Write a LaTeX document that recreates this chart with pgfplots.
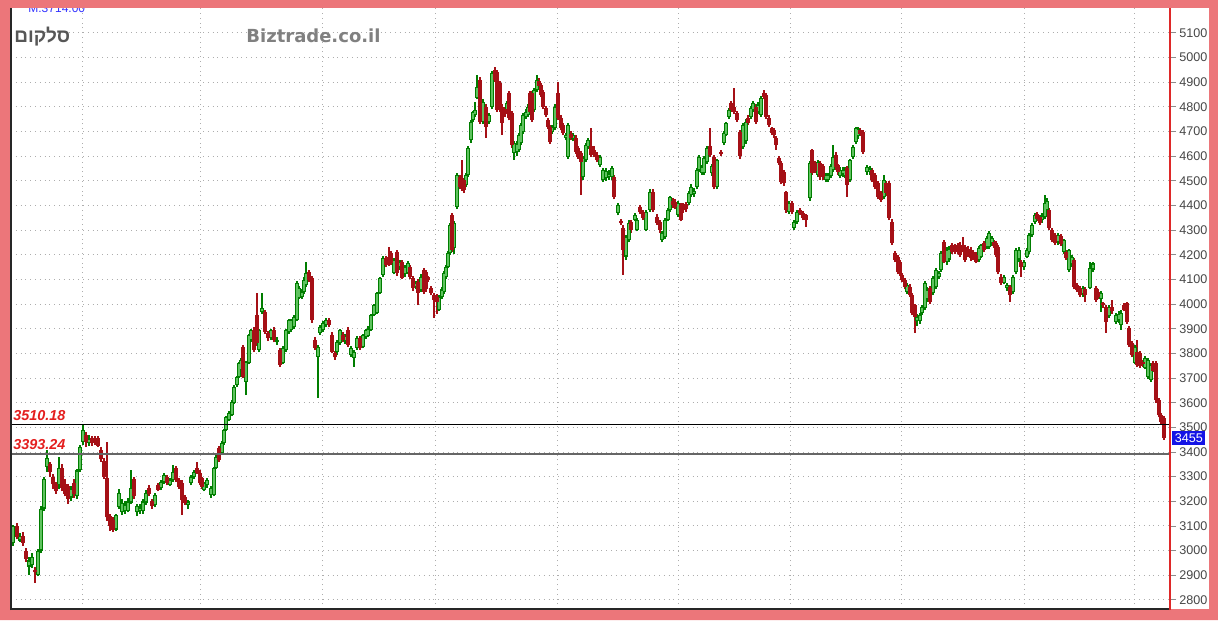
\documentclass[border=0pt]{standalone}
\usepackage{fontspec}
\setmainfont{Liberation Sans}
\newfontfamily\hebfont[Script=Hebrew]{Liberation Sans}
\newfontfamily\dejavu{DejaVu Sans}
\TeXXeTstate=1
\usepackage{pgfplots}
\pgfplotsset{compat=1.18}
\usepackage{pgfplotstable}
\definecolor{pinkbg}{RGB}{236,118,122}
\definecolor{upline}{RGB}{0,125,0}
\definecolor{upfill}{RGB}{95,195,95}
\definecolor{dn}{RGB}{165,16,22}
\definecolor{lvl}{RGB}{228,30,30}
\definecolor{boxblue}{RGB}{20,20,230}
\definecolor{redline}{RGB}{222,40,40}

\pgfplotstableread[row sep=\\]{
x o h l c\\
13 3030 3105 3020 3100\\ 17 3100 3110 3045 3055\\ 20 3040 3070 3035 3060\\ 23 3060 3075 3020 3030\\
26 3000 3010 2955 2965\\ 29 2935 2975 2900 2960\\ 32 2940 2990 2930 2975\\ 35 2920 2935 2870 2912\\
38 2900 3005 2895 3000\\ 41 3000 3180 2990 3170\\ 44 3170 3300 3160 3290\\ 47 3340 3410 3320 3375\\
50 3350 3360 3300 3320\\ 53 3300 3310 3250 3270\\ 56 3270 3280 3230 3240\\ 59 3265 3380 3250 3335\\
62 3335 3350 3240 3255\\ 65 3270 3290 3220 3230\\ 68 3260 3270 3190 3210\\ 71 3215 3260 3200 3250\\
74 3275 3290 3215 3230\\ 77 3220 3330 3210 3325\\ 80 3325 3430 3320 3420\\ 83 3440 3510 3430 3490\\
86 3470 3480 3420 3440\\ 89 3435 3470 3425 3455\\ 92 3455 3465 3425 3435\\ 95 3450 3465 3430 3440\\
98 3455 3465 3420 3425\\ 101 3410 3420 3360 3370\\ 104 3365 3375 3290 3300\\ 107 3295 3440 3120 3135\\
110 3140 3150 3080 3100\\ 113 3125 3135 3075 3085\\ 116 3085 3150 3080 3145\\ 119 3175 3250 3170 3235\\
122 3155 3210 3145 3195\\ 125 3160 3200 3150 3185\\ 128 3160 3215 3155 3200\\ 131 3195 3327 3190 3255\\
134 3290 3300 3210 3220\\ 137 3155 3190 3140 3180\\ 140 3160 3190 3150 3175\\ 143 3160 3210 3150 3200\\
146 3195 3245 3185 3235\\ 149 3255 3265 3220 3230\\ 152 3200 3210 3170 3180\\ 155 3185 3235 3175 3226\\
158 3266 3275 3240 3246\\ 161 3254 3285 3245 3278\\ 164 3278 3315 3270 3307\\ 167 3299 3305 3265 3274\\
170 3266 3295 3260 3287\\ 173 3287 3347 3280 3319\\ 176 3335 3345 3280 3287\\ 179 3287 3295 3250 3258\\
182 3274 3285 3145 3205\\ 185 3217 3225 3185 3193\\ 188 3185 3205 3170 3200\\ 191 3274 3305 3265 3299\\
194 3299 3325 3290 3319\\ 197 3335 3360 3310 3315\\ 200 3315 3325 3265 3274\\ 202 3295 3300 3250 3258\\
204 3246 3280 3240 3274\\ 207 3266 3295 3255 3287\\ 211 3226 3260 3215 3254\\ 214 3226 3340 3220 3335\\
216 3335 3390 3330 3380\\ 219 3416 3425 3360 3368\\ 222 3396 3445 3390 3436\\ 224 3436 3495 3430 3490\\
226 3490 3545 3485 3542\\ 229 3530 3565 3525 3558\\ 232 3550 3610 3545 3603\\ 234 3599 3670 3595 3664\\
237 3672 3710 3665 3704\\ 239 3704 3765 3700 3761\\ 241 3733 3780 3725 3773\\ 243 3826 3835 3700 3704\\
246 3684 3770 3631 3765\\ 249 3761 3880 3755 3875\\ 251 3854 3900 3845 3895\\ 254 3895 3905 3805 3814\\
257 3956 4045 3830 3842\\ 259 3814 3900 3805 3895\\ 262 3968 4045 3960 3984\\ 265 3968 3975 3880 3887\\
268 3883 3890 3850 3863\\ 271 3863 3900 3855 3895\\ 274 3895 3905 3845 3855\\ 277 3845 3865 3835 3855\\
280 3814 3820 3745 3753\\ 283 3761 3830 3755 3822\\ 286 3814 3900 3805 3895\\ 289 3887 3940 3880 3935\\
291 3895 3940 3885 3935\\ 294 3907 3955 3900 3948\\ 297 3935 4095 3930 4086\\ 299 4025 4075 4020 4065\\
302 4029 4060 4020 4049\\ 304 4049 4110 4040 4098\\ 306 4078 4171 4070 4126\\ 309 4130 4140 4090 4098\\
312 4106 4115 3925 3935\\ 315 3855 3865 3815 3822\\ 318 3786 3835 3619 3826\\ 320 3883 3915 3875 3907\\
323 3895 3930 3885 3923\\ 326 3915 3945 3905 3935\\ 329 3935 3945 3905 3915\\ 332 3875 3885 3800 3806\\
335 3800 3810 3775 3785\\ 337 3806 3855 3795 3846\\ 340 3842 3900 3835 3895\\ 343 3875 3885 3845 3854\\
345 3850 3880 3840 3870\\ 348 3895 3905 3825 3834\\ 351 3793 3830 3785 3822\\ 354 3782 3815 3745 3806\\
357 3822 3870 3815 3863\\ 360 3863 3870 3815 3822\\ 363 3826 3880 3820 3875\\ 366 3867 3900 3860 3895\\
368 3870 3910 3865 3900\\ 371 3895 3960 3890 3956\\ 374 3956 4000 3950 3996\\ 377 3964 4050 3960 4045\\
380 4045 4110 4040 4106\\ 383 4118 4195 4110 4187\\ 386 4187 4195 4150 4159\\ 389 4190 4232 4155 4165\\
391 4208 4215 4160 4167\\ 394 4126 4185 4120 4179\\ 397 4212 4220 4115 4126\\ 400 4150 4180 4140 4170\\
402 4171 4180 4100 4106\\ 405 4120 4160 4110 4150\\ 408 4126 4175 4120 4167\\ 410 4151 4160 4100 4110\\
413 4106 4115 4055 4065\\ 416 4070 4095 4060 4085\\ 418 4090 4100 3996 4045\\ 421 4057 4120 4050 4110\\
424 4138 4145 4040 4049\\ 426 4130 4140 4050 4060\\ 428 4110 4115 4090 4098\\ 431 4065 4075 4035 4045\\
434 4037 4045 3944 4017\\ 437 4030 4040 3960 4010\\ 439 3976 4035 3970 4029\\ 442 4029 4070 4020 4060\\
444 4049 4135 4040 4126\\ 446 4110 4160 4100 4151\\ 448 4151 4215 4145 4208\\ 450 4208 4330 4200 4321\\
452 4362 4370 4210 4220\\ 454 4228 4335 4205 4329\\ 457 4394 4530 4385 4524\\ 460 4516 4525 4465 4475\\
462 4510 4585 4460 4470\\ 464 4504 4510 4450 4463\\ 466 4484 4530 4475 4524\\ 468 4524 4640 4515 4633\\
471 4666 4745 4655 4739\\ 473 4747 4785 4740 4780\\ 475 4767 4820 4760 4788\\ 477 4836 4930 4830 4880\\
480 4909 4920 4730 4739\\ 483 4739 4830 4730 4820\\ 486 4800 4810 4674 4719\\ 489 4739 4775 4730 4767\\
492 4800 4945 4790 4938\\ 495 4950 4962 4900 4909\\ 497 4942 4950 4780 4788\\ 500 4897 4905 4780 4788\\
502 4800 4810 4686 4735\\ 505 4790 4800 4760 4770\\ 507 4780 4825 4770 4816\\ 509 4857 4865 4745 4755\\
512 4775 4785 4635 4645\\ 514 4613 4660 4585 4654\\ 517 4615 4660 4600 4650\\ 519 4625 4695 4615 4686\\
521 4654 4735 4645 4727\\ 523 4698 4775 4690 4767\\ 526 4759 4790 4750 4780\\ 528 4767 4810 4760 4800\\
530 4857 4865 4770 4780\\ 532 4857 4865 4740 4747\\ 534 4788 4875 4780 4869\\ 537 4869 4930 4860 4909\\
539 4905 4915 4875 4885\\ 541 4889 4895 4840 4848\\ 543 4860 4870 4790 4800\\ 546 4796 4805 4760 4767\\
548 4747 4755 4710 4719\\ 550 4719 4725 4650 4658\\ 552 4698 4725 4690 4719\\ 555 4715 4810 4705 4800\\
558 4857 4901 4745 4755\\ 561 4755 4765 4705 4715\\ 563 4727 4735 4685 4694\\ 566 4674 4695 4665 4686\\
568 4597 4735 4590 4727\\ 571 4690 4700 4665 4675\\ 573 4670 4695 4660 4685\\ 576 4674 4685 4610 4617\\
578 4633 4640 4590 4597\\ 581 4613 4620 4443 4577\\ 583 4516 4600 4505 4593\\ 586 4585 4655 4575 4646\\
588 4637 4675 4630 4666\\ 591 4640 4715 4597 4605\\ 594 4625 4640 4595 4605\\ 597 4605 4615 4575 4585\\
600 4564 4605 4555 4597\\ 603 4504 4550 4495 4544\\ 606 4510 4550 4500 4540\\ 609 4515 4545 4505 4530\\
612 4516 4560 4505 4552\\ 614 4516 4525 4425 4435\\ 618 4370 4410 4360 4402\\ 621 4335 4345 4320 4328\\
623 4309 4320 4118 4220\\ 626 4192 4280 4180 4272\\ 629 4260 4340 4250 4330\\ 631 4333 4340 4290 4301\\
635 4341 4370 4335 4362\\ 637 4301 4350 4295 4341\\ 640 4394 4400 4365 4374\\ 643 4374 4380 4340 4350\\
646 4301 4380 4295 4374\\ 650 4382 4465 4375 4455\\ 653 4455 4465 4375 4382\\ 657 4354 4365 4320 4330\\
660 4333 4340 4290 4301\\ 662 4260 4295 4250 4288\\ 665 4272 4350 4265 4341\\ 668 4341 4390 4335 4382\\
670 4382 4440 4375 4435\\ 673 4420 4430 4390 4400\\ 675 4415 4425 4385 4395\\ 678 4362 4420 4355 4410\\
681 4402 4410 4335 4341\\ 683 4402 4410 4370 4380\\ 686 4405 4415 4375 4385\\ 689 4410 4460 4400 4451\\
691 4443 4485 4435 4475\\ 694 4445 4470 4435 4460\\ 697 4475 4550 4465 4544\\ 699 4544 4605 4535 4597\\
702 4532 4565 4525 4556\\ 704 4532 4600 4525 4593\\ 707 4577 4640 4570 4633\\ 710 4640 4715 4595 4605\\
712 4530 4570 4520 4560\\ 714 4597 4605 4465 4475\\ 717 4475 4590 4465 4585\\ 721 4618 4625 4600 4610\\
724 4654 4700 4645 4694\\ 726 4686 4740 4680 4735\\ 729 4759 4795 4750 4788\\ 731 4816 4825 4780 4788\\
734 4800 4877 4770 4780\\ 737 4775 4785 4740 4747\\ 740 4698 4705 4590 4600\\ 743 4637 4735 4630 4727\\
746 4660 4750 4650 4740\\ 748 4755 4765 4725 4735\\ 751 4759 4805 4750 4796\\ 753 4788 4825 4780 4816\\
756 4800 4810 4730 4739\\ 758 4780 4820 4770 4810\\ 761 4767 4845 4760 4836\\ 764 4857 4869 4830 4840\\
766 4848 4855 4750 4759\\ 769 4755 4765 4720 4727\\ 772 4715 4720 4685 4694\\ 774 4705 4715 4675 4685\\
776 4674 4680 4625 4646\\ 779 4593 4600 4565 4572\\ 781 4572 4580 4485 4495\\ 784 4536 4545 4480 4491\\
786 4455 4460 4370 4382\\ 789 4374 4420 4365 4410\\ 792 4410 4420 4365 4374\\ 794 4309 4340 4300 4333\\
797 4333 4380 4325 4374\\ 800 4382 4390 4360 4370\\ 803 4370 4378 4340 4350\\ 806 4360 4365 4313 4340\\
810 4430 4580 4420 4572\\ 812 4625 4630 4525 4532\\ 815 4572 4580 4530 4540\\ 818 4524 4585 4515 4576\\
820 4572 4580 4505 4516\\ 823 4560 4570 4505 4516\\ 826 4504 4530 4495 4524\\ 828 4504 4530 4495 4524\\
831 4520 4570 4510 4560\\ 833 4544 4646 4535 4597\\ 836 4605 4615 4545 4556\\ 838 4564 4570 4525 4536\\
840 4520 4555 4510 4545\\ 843 4525 4555 4515 4545\\ 845 4520 4555 4510 4545\\ 847 4552 4560 4435 4484\\
850 4504 4590 4495 4585\\ 853 4597 4645 4590 4637\\ 856 4658 4720 4650 4715\\ 858 4680 4720 4670 4710\\
860 4705 4715 4680 4690\\ 863 4698 4705 4610 4617\\ 867 4536 4565 4525 4556\\ 870 4536 4560 4525 4550\\
872 4544 4550 4495 4504\\ 875 4524 4530 4465 4475\\ 878 4491 4500 4425 4435\\ 881 4451 4460 4415 4423\\
884 4435 4524 4425 4504\\ 886 4490 4500 4440 4450\\ 889 4491 4500 4340 4350\\ 892 4333 4345 4240 4248\\
895 4208 4215 4170 4179\\ 898 4191 4200 4120 4130\\ 900 4171 4180 4115 4126\\ 902 4118 4125 4090 4098\\
905 4098 4105 4060 4070\\ 907 4049 4085 4040 4078\\ 910 4070 4080 4030 4037\\ 912 4037 4045 3955 3964\\
915 3996 4000 3883 3948\\ 917 3930 3960 3910 3950\\ 920 3930 3965 3920 3955\\ 922 3964 3995 3955 3988\\
925 3984 4095 3975 4086\\ 927 4020 4070 4010 4060\\ 930 4065 4075 4000 4009\\ 933 4045 4115 4035 4106\\
936 4070 4145 4060 4138\\ 939 4110 4135 4100 4125\\ 941 4138 4215 4130 4208\\ 944 4252 4260 4165 4171\\
947 4171 4230 4160 4220\\ 949 4180 4235 4170 4225\\ 952 4240 4248 4205 4212\\ 955 4235 4245 4205 4215\\
958 4240 4248 4205 4212\\ 960 4240 4250 4190 4200\\ 963 4240 4272 4210 4220\\ 965 4232 4240 4170 4179\\
968 4225 4235 4190 4200\\ 971 4220 4230 4175 4185\\ 973 4210 4220 4180 4190\\ 976 4200 4210 4165 4171\\
979 4179 4235 4170 4228\\ 981 4191 4245 4185 4240\\ 984 4248 4255 4210 4220\\ 987 4232 4275 4225 4268\\
989 4232 4295 4225 4289\\ 992 4245 4278 4235 4270\\ 994 4250 4258 4228 4235\\ 996 4248 4255 4190 4200\\
998 4232 4240 4120 4130\\ 1001 4110 4120 4078 4086\\ 1004 4086 4118 4080 4110\\ 1007 4065 4085 4055 4078\\
1010 4070 4078 4009 4037\\ 1013 4049 4118 4040 4110\\ 1016 4130 4228 4120 4220\\ 1019 4180 4230 4170 4220\\
1021 4171 4180 4110 4151\\ 1024 4150 4180 4140 4172\\ 1027 4191 4228 4185 4220\\ 1029 4212 4288 4205 4280\\
1032 4280 4328 4272 4321\\ 1035 4333 4370 4325 4362\\ 1037 4365 4375 4335 4345\\ 1040 4354 4360 4320 4329\\
1042 4340 4370 4330 4360\\ 1045 4354 4443 4345 4410\\ 1047 4380 4430 4370 4420\\ 1049 4382 4390 4300 4309\\
1052 4300 4310 4250 4260\\ 1055 4280 4290 4240 4248\\ 1058 4250 4290 4240 4280\\ 1061 4275 4285 4235 4245\\
1064 4212 4265 4205 4260\\ 1066 4212 4220 4180 4187\\ 1069 4138 4225 4130 4220\\ 1072 4160 4200 4150 4190\\
1074 4179 4185 4060 4070\\ 1077 4078 4085 4050 4057\\ 1080 4065 4075 4030 4037\\ 1083 4040 4075 4030 4065\\
1085 4060 4070 4009 4035\\ 1090 4065 4171 4060 4147\\ 1093 4140 4171 4130 4165\\ 1096 4065 4075 4010 4017\\
1098 4050 4060 4020 4030\\ 1101 4020 4055 3968 4045\\ 1103 4005 4010 3985 3995\\ 1106 3988 3995 3883 3927\\
1109 3950 3995 3945 3988\\ 1112 3990 4017 3960 3970\\ 1116 3927 3965 3920 3956\\ 1119 3935 3970 3925 3960\\
1121 3915 3975 3895 3965\\ 1124 3996 4005 3970 3976\\ 1127 4005 4010 3920 3927\\ 1129 3903 3910 3825 3834\\
1132 3842 3850 3785 3793\\ 1135 3761 3835 3755 3826\\ 1137 3806 3854 3745 3753\\ 1140 3800 3810 3740 3750\\
1143 3765 3775 3745 3755\\ 1145 3741 3790 3735 3782\\ 1148 3704 3780 3695 3773\\ 1151 3692 3760 3685 3753\\
1153 3761 3770 3725 3730\\ 1156 3761 3770 3600 3611\\ 1159 3611 3620 3540 3550\\ 1161 3550 3560 3515 3522\\
1164 3538 3545 3450 3457\\
}\candles

\begin{document}
\begin{tikzpicture}
\fill[white] (0,0) rectangle (599pt,300.5pt);
\begin{axis}[
  scale only axis, width=579.5pt, height=300.5pt,
  xmin=11, xmax=1170, ymin=2763, ymax=5201,
  clip=false,
  axis line style={draw=none},
  xtick={82,200.5,322.5,435,557,678,790,901,1024,1134},
  xticklabels={},
  major x tick style={draw=none},
  ytick={2800,2900,...,5100},
  ytick pos=right, yticklabel pos=right,
  tick align=outside,
  major tick length=3pt,
  major y tick style={draw=black!45, line width=0.4pt},
  yticklabel style={font=\fontsize{6.3}{7}\selectfont, text=black!72, anchor=west, inner sep=0pt, xshift=1.5pt},
  /pgf/number format/assume math mode=true,
  /pgf/number format/1000 sep={},
  grid=major,
  grid style={dotted, line width=0.45pt, draw=black!32},
]
% wicks
\addplot[forget plot, draw=none, mark=none, error bars/.cd, y dir=plus, y explicit, error mark=none,
  error bar style={draw=upline, line width=0.55pt}]
  table[x=x, y expr={\thisrow{c}>=\thisrow{o} ? \thisrow{l} : nan}, y error plus expr={\thisrow{h}-\thisrow{l}}] {\candles};
\addplot[forget plot, draw=none, mark=none, error bars/.cd, y dir=plus, y explicit, error mark=none,
  error bar style={draw=dn, line width=0.55pt}]
  table[x=x, y expr={\thisrow{c}<\thisrow{o} ? \thisrow{l} : nan}, y error plus expr={\thisrow{h}-\thisrow{l}}] {\candles};
% bodies
\addplot[forget plot, draw=none, mark=none, error bars/.cd, y dir=plus, y explicit, error mark=none,
  error bar style={draw=upline, line width=1.7pt}]
  table[x=x, y expr={\thisrow{c}>=\thisrow{o} ? \thisrow{o} : nan}, y error plus expr={max(\thisrow{c}-\thisrow{o},5)}] {\candles};
\addplot[forget plot, draw=none, mark=none, error bars/.cd, y dir=plus, y explicit, error mark=none,
  error bar style={draw=upfill, line width=0.75pt}]
  table[x=x, y expr={\thisrow{c}>=\thisrow{o} ? \thisrow{o}+5 : nan}, y error plus expr={max(\thisrow{c}-\thisrow{o}-10,0)}] {\candles};
\addplot[forget plot, draw=none, mark=none, error bars/.cd, y dir=plus, y explicit, error mark=none,
  error bar style={draw=dn, line width=1.7pt}]
  table[x=x, y expr={\thisrow{c}<\thisrow{o} ? \thisrow{c} : nan}, y error plus expr={max(\thisrow{o}-\thisrow{c},5)}] {\candles};

% level lines
\draw[black, line width=0.5pt] (axis cs:11,3510.18) -- (axis cs:1170,3510.18);
\draw[black!60, line width=1pt] (axis cs:11,3393.24) -- (axis cs:1170,3393.24);
\node[anchor=base west, inner sep=0pt, text=lvl, font=\fontsize{7.2}{8}\selectfont\bfseries\itshape] at (axis cs:13,3526) {3510.18};
\node[anchor=base west, inner sep=0pt, text=lvl, font=\fontsize{7.2}{8}\selectfont\bfseries\itshape] at (axis cs:13,3412) {3393.24};
\node[anchor=west, fill=boxblue, text=white, inner xsep=1.2pt, inner ysep=0pt, minimum height=7pt, font=\fontsize{6.3}{7}\selectfont, xshift=1pt] at (axis cs:1170,3455) {3455};
% titles
\node[anchor=west, inner sep=0pt, text=black!66, font=\hebfont\bfseries\fontsize{9.5}{11}\selectfont] at (axis cs:14,5084) {\beginR סלקום\endR};
\node[anchor=west, inner sep=0pt, text=black!50, font=\dejavu\bfseries\fontsize{9}{10}\selectfont] at (axis cs:246,5090) {Biztrade.co.il};
\node[anchor=base west, inner sep=0pt, text=blue!80, font=\fontsize{6}{7}\selectfont] at (axis cs:28,5182) {M:3714.00};
\end{axis}
\fill[pinkbg, even odd rule] (-5.5pt,-5.5pt) rectangle (603.5pt,304.5pt) (0,0) rectangle (599pt,300.5pt);
\draw[black!85, line width=1.1pt] (0,-0.5pt) -- (0,300.5pt);
\draw[black!85, line width=1pt] (0,0) -- (579.5pt,0);
\draw[redline, line width=1pt] (579.5pt,-0.5pt) -- (579.5pt,300.5pt);
\pgfresetboundingbox
\useasboundingbox (-5.5pt,-5.5pt) rectangle (603.5pt,304.5pt);
\end{tikzpicture}
\end{document}
